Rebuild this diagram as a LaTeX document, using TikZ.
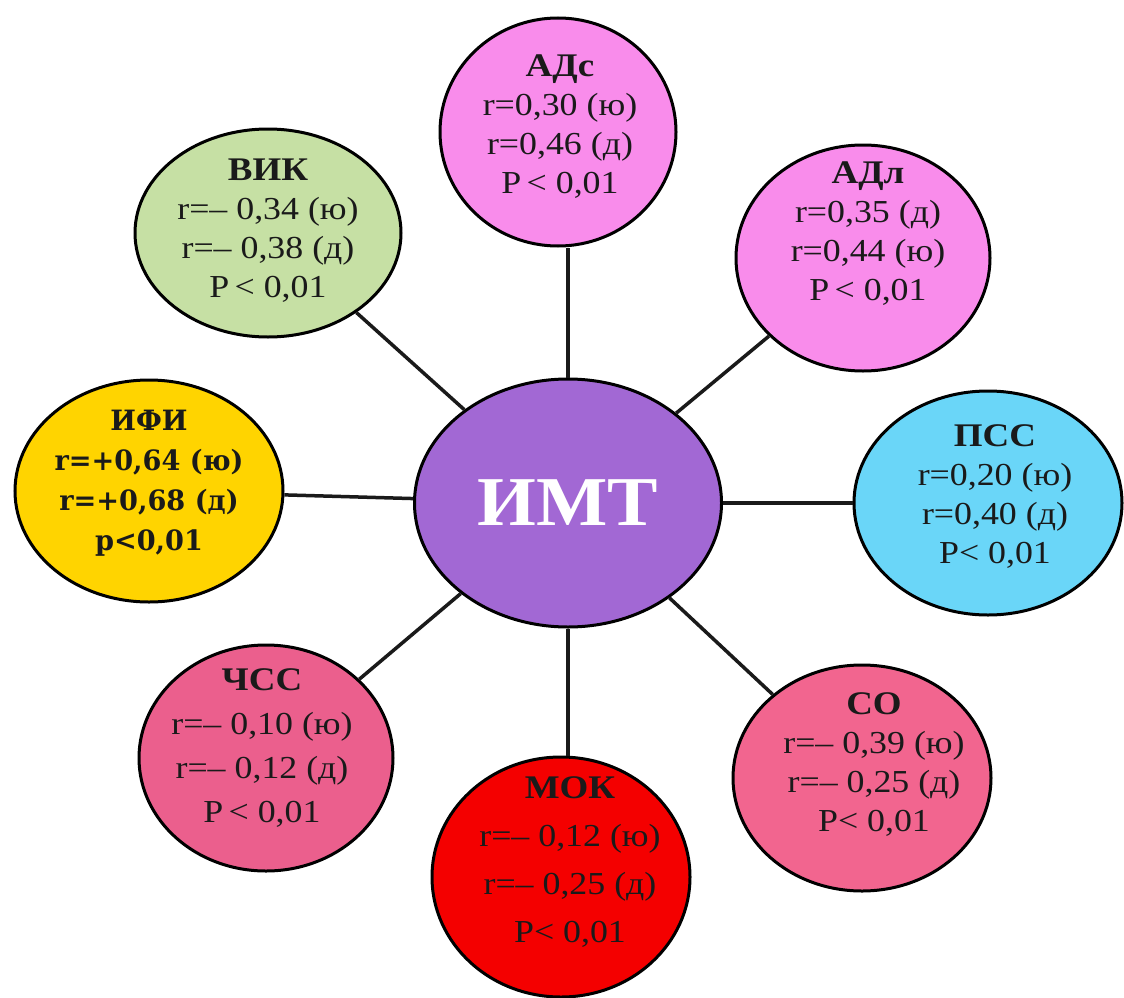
\documentclass[tikz,border=0pt]{standalone}
\usepackage{fontspec}
\usetikzlibrary{shapes.geometric}
\newfontfamily\tnr[FakeStretch=1.12]{Liberation Serif}
\newfontfamily\imtfont[FakeStretch=1.08]{Liberation Serif}
\newfontfamily\ifif[FakeStretch=0.97]{DejaVu Serif}
\definecolor{cpink}{HTML}{F98CEB}
\definecolor{cgreen}{HTML}{C6E0A4}
\definecolor{cyellow}{HTML}{FFD400}
\definecolor{cpurple}{HTML}{A268D4}
\definecolor{ccyan}{HTML}{6AD6F8}
\definecolor{crose}{HTML}{F2658F}
\definecolor{crose2}{HTML}{EB5F8D}
\definecolor{cred}{HTML}{F40000}
\definecolor{ctext}{HTML}{1A1A1A}
\newcommand\ttl[1]{{\bfseries\fontsize{33}{39}\selectfont #1}}
\tikzset{
  sat/.style={ellipse, draw=black, line width=3pt, inner sep=0pt},
  txt/.style={align=center, text=ctext, font=\tnr\fontsize{32}{39}\selectfont},
  txtwide/.style={align=center, text=ctext, font=\tnr\fontsize{32}{48}\selectfont},
  txtmid/.style={align=center, text=ctext, font=\tnr\fontsize{32}{44}\selectfont},
  txtifi/.style={align=center, text=ctext, font=\ifif\bfseries\fontsize{28}{40}\selectfont},
  link/.style={line width=3.5pt, draw=ctext},
}
\begin{document}
\begin{tikzpicture}[x=1pt,y=-1pt]
\useasboundingbox (0,0) rectangle (1124,998);
% ellipses
\node[sat, fill=cpurple, minimum width=307pt, minimum height=248pt] (imt) at (568,503) {};
\node[sat, fill=cpink, minimum width=236pt, minimum height=228pt] (adc) at (558,132) {};
\node[sat, fill=cpink, minimum width=254pt, minimum height=226pt] (adl) at (863,258) {};
\node[sat, fill=ccyan, minimum width=268pt, minimum height=224pt] (pss) at (988,503) {};
\node[sat, fill=crose, minimum width=258pt, minimum height=226pt] (so) at (862,778) {};
\node[sat, fill=cred, minimum width=258pt, minimum height=240pt] (mok) at (561,877) {};
\node[sat, fill=crose2, minimum width=254pt, minimum height=226pt] (chss) at (266,758) {};
\node[sat, fill=cyellow, minimum width=268pt, minimum height=222pt] (ifi) at (149,491) {};
\node[sat, fill=cgreen, minimum width=266pt, minimum height=208pt] (vik) at (268,233) {};
% connectors
\draw[link] (imt.north) -- (imt.north |- adc.south);
\draw[link] (imt.south) -- (imt.south |- mok.north);
\foreach \s in {adl,pss,so,chss,ifi,vik}
  \draw[link] (imt) -- (\s);
% texts
\node[text=white, font=\imtfont\bfseries\fontsize{70}{70}\selectfont] (imtt) at (imt) {ИМТ};
\node[txt] (adct) at (560,127) {\ttl{АДс}\\r=0,30 (ю)\\r=0,46 (д)\\P\,< 0,01};
\node[txt] (adlt) at (868,234) {\ttl{АДл}\\r=0,35 (д)\\r=0,44 (ю)\\P\,< 0,01};
\node[txt] (psst) at (995,497) {\ttl{ПСС}\\r=0,20 (ю)\\r=0,40 (д)\\P< 0,01};
\node[txt] (sot) at (874,765) {\ttl{СО}\\r=– 0,39 (ю)\\r=– 0,25 (д)\\P< 0,01};
\node[txtwide] (mokt) at (570,862) {\ttl{МОК}\\r=– 0,12 (ю)\\r=– 0,25 (д)\\P< 0,01};
\node[txtmid] (chsst) at (262,748) {\ttl{ЧСС}\\r=– 0,10 (ю)\\r=– 0,12 (д)\\P\,< 0,01};
\node[txtifi] (ifit) at (149,483) {ИФИ\\r=+0,64 (ю)\\r=+0,68 (д)\\p<0,01};
\node[txt] (vikt) at (268,231) {\ttl{ВИК}\\r=– 0,34 (ю)\\ r=– 0,38 (д)\\P\,< 0,01};
\end{tikzpicture}
\end{document}
